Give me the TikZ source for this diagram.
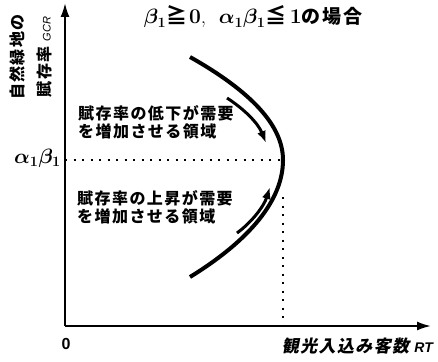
\documentclass[tikz,border=0pt]{standalone}
\usepackage{fontspec}
\usepackage{amsmath,bm}
\usetikzlibrary{arrows.meta}
\newfontfamily\jp{Noto Sans CJK JP}[LetterSpace=9]
\newfontfamily\jpsl{Noto Sans CJK JP}[LetterSpace=8,FakeSlant=0.2]
\newfontfamily\lsans{Liberation Sans}
\tikzset{
  axis/.style={line width=2pt,-{Latex[length=14pt,width=9pt]}},
  curvestyle/.style={line width=4pt},
  arr/.style={line width=3pt,-{Latex[length=12pt,width=9pt]}},
  dots/.style={line width=2pt,dash pattern=on 2pt off 6.5pt},
  lbl/.style={align=left,inner sep=0pt,font=\fontsize{16}{18}\selectfont\jp\bfseries},
}
\begin{document}
\begin{tikzpicture}[x=1pt,y=-1pt]
\useasboundingbox (0,0) rectangle (438,361);
% axes
\coordinate (O) at (65,326);
\coordinate (Ytop) at (65,3);
\coordinate (Xend) at (431,326);
\draw[axis] (O) -- (Ytop);
\draw[axis] (O) -- (Xend);
% dotted guides
\coordinate (Yab) at (65,160);
\coordinate (apex) at (283,160);
\coordinate (vtop) at (283,197);
\coordinate (vbot) at (283,326);
\draw[dots] (Yab) -- (apex);
\draw[dots] (vtop) -- (vbot);
% curve
\coordinate (c0) at (190,57);
\coordinate (c1) at (190,277);
\draw[curvestyle] (c0) .. controls (252,92) and (283,126) .. (apex)
  .. controls (283,200) and (250,240) .. (c1);
% arrows along curve
\coordinate (a0) at (227,98);
\coordinate (a1) at (266,143);
\coordinate (b0) at (237,233);
\coordinate (b1) at (270,187);
\draw[arr] (a0) .. controls (244,109) and (258,123) .. (a1);
\draw[arr] (b0) .. controls (252,222) and (264,206) .. (b1);
% labels
\node[lbl,anchor=west] (upper) at (78,122) {賦存率の低下が需要\\を増加させる領域};
\node[lbl,anchor=west] (lower) at (77,207) {賦存率の上昇が需要\\を増加させる領域};
\node[inner sep=0pt,font=\fontsize{21}{22}\selectfont] (title) at (253,17)
  {$\bm{\beta_1}${\jp\bfseries ≧}\textbf{0},\ \ $\bm{\alpha_1\beta_1}${\jp\bfseries ≦}\,\textbf{1}{\jp\bfseries\fontsize{19}{20}\selectfont の場合}};
\node[inner sep=0pt,anchor=east,font=\fontsize{21}{22}\selectfont] (ab) at (61,158) {$\bm{\alpha_1\beta_1}$};
\node[inner sep=0pt,font=\fontsize{16}{18}\selectfont\lsans\bfseries] (zero) at (66,344) {0};
\node[inner sep=0pt,anchor=east,font=\fontsize{17}{18}\selectfont\jpsl\bfseries] (xl) at (433,346)
  {観光入込み客数\ {\lsans\itshape\fontsize{14}{14}\selectfont RT}};
\node[inner sep=0pt,rotate=90,align=center,font=\fontsize{16}{27}\selectfont\jp\bfseries] (yl) at (31,57)
  {自然緑地の\\賦存率 {\lsans\mdseries\itshape\fontsize{11}{12}\selectfont GCR}};
\end{tikzpicture}
\end{document}
